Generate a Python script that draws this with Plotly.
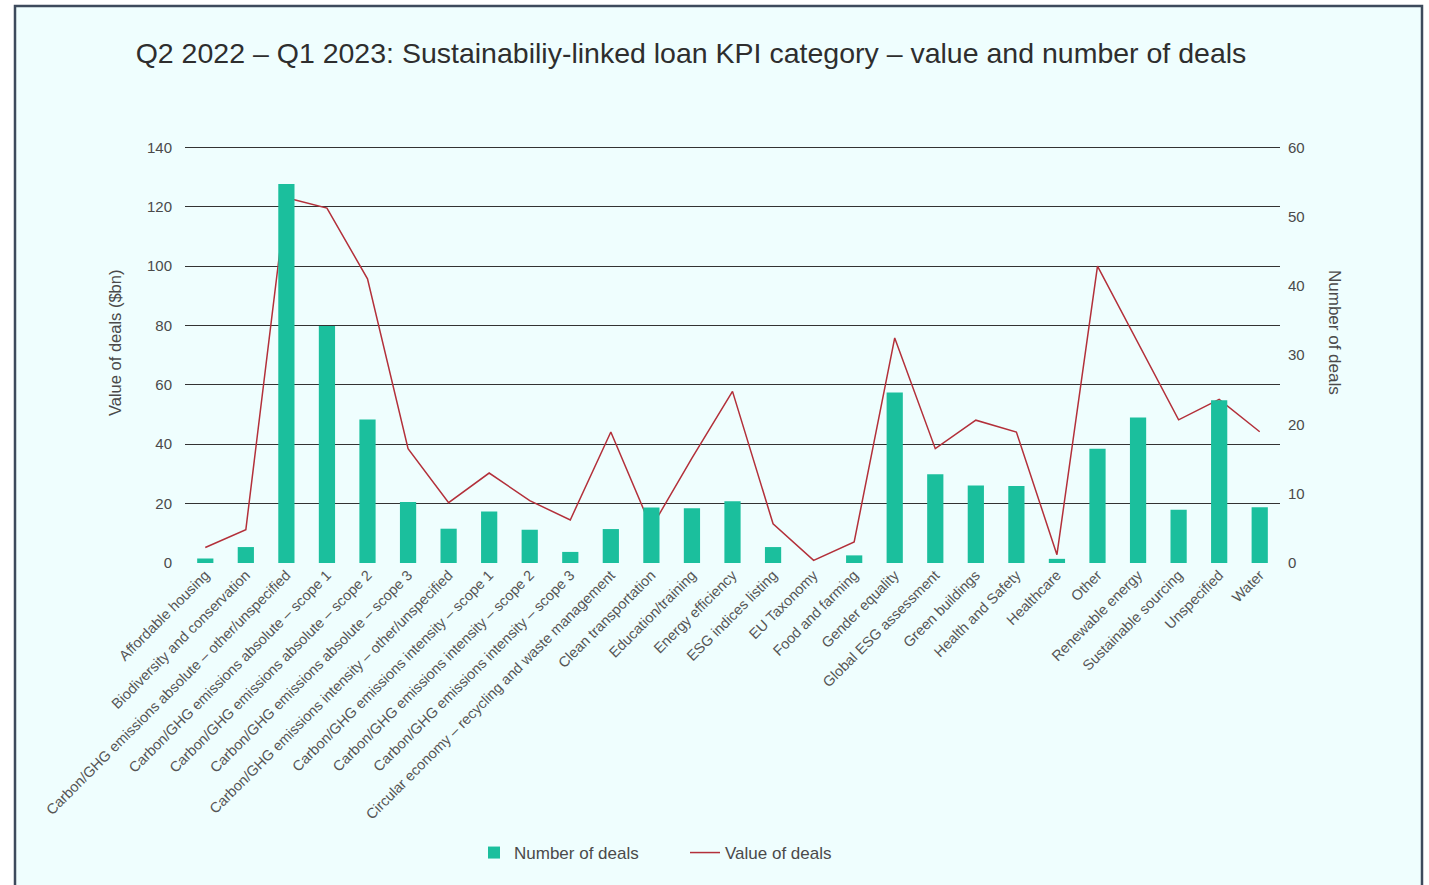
import plotly.graph_objects as go

# KPI categories
categories = [
    "Affordable housing",
    "Biodiversity and conservation",
    "Carbon/GHG emissions absolute – other/unspecified",
    "Carbon/GHG emissions absolute – scope 1",
    "Carbon/GHG emissions absolute – scope 2",
    "Carbon/GHG emissions absolute – scope 3",
    "Carbon/GHG emissions intensity – other/unspecified",
    "Carbon/GHG emissions intensity – scope 1",
    "Carbon/GHG emissions intensity – scope 2",
    "Carbon/GHG emissions intensity – scope 3",
    "Circular economy – recycling and waste management",
    "Clean transportation",
    "Education/training",
    "Energy efficiency",
    "ESG indices listing",
    "EU Taxonomy",
    "Food and farming",
    "Gender equality",
    "Global ESG assessment",
    "Green buildings",
    "Health and Safety",
    "Healthcare",
    "Other",
    "Renewable energy",
    "Sustainable sourcing",
    "Unspecified",
    "Water",
]

# Number of deals (right axis)
number_of_deals = [
    0.65, 2.3, 54.7, 34.2, 20.7, 8.8, 4.95, 7.45, 4.8, 1.6,
    4.9, 8.0, 7.9, 8.9, 2.3, 0, 1.1, 24.6, 12.8, 11.2,
    11.1, 0.6, 16.5, 21.0, 7.7, 23.5, 8.05,
]

# Value of deals, $bn (left axis)
value_of_deals = [
    5.2, 11.2, 123.0, 119.5, 95.7, 38.5, 20.3, 30.3, 21.0, 14.5,
    44.1, 11.9, 35.3, 57.8, 13.2, 0.9, 7.1, 75.8, 38.5, 48.1,
    44.1, 2.8, 100.0, 74.1, 48.2, 55.1, 44.2,
]

left_ticks = [0, 20, 40, 60, 80, 100, 120, 140]
right_ticks = [0, 10, 20, 30, 40, 50, 60]

BAR_COLOR = "#1bbf9d"
LINE_COLOR = "#b3303a"
TEXT_COLOR = "#4a4a4a"
PANEL_COLOR = "#effefe"
FONT = "Liberation Sans, Arial, sans-serif"

W, H = 1429, 885
L, R, T, B = 185, 149, 146, 322
PW, PH = W - L - R, H - T - B

# small headroom so the top gridline is not clipped at the plot edge
PAD = 1.003
left_range = [0, 140 * PAD]
right_range = [0, 60 * PAD]


def px(x):
    return (x - L) / PW


def py(y):
    return (H - B - y) / PH


fig = go.Figure()

fig.add_trace(go.Bar(
    x=categories,
    y=number_of_deals,
    name="Number of deals",
    marker=dict(color=BAR_COLOR, line=dict(width=0)),
    yaxis="y2",
))

fig.add_trace(go.Scatter(
    x=categories,
    y=value_of_deals,
    name="Value of deals",
    mode="lines",
    line=dict(color=LINE_COLOR, width=1.5),
    yaxis="y",
))

fig.update_layout(
    width=W,
    height=H,
    margin=dict(l=L, r=R, t=T, b=B),
    paper_bgcolor="white",
    plot_bgcolor="rgba(0,0,0,0)",
    font=dict(family=FONT, color=TEXT_COLOR),
    bargap=0.6,
    showlegend=True,
    title=dict(
        text="Q2 2022 – Q1 2023: Sustainabiliy-linked loan KPI category – value and number of deals",
        x=px(691), xref="paper", xanchor="center",
        y=1 - 53 / H, yref="container", yanchor="middle",
        font=dict(family=FONT, size=28.5, color="#2e2e2e"),
    ),
    xaxis=dict(
        type="category",
        tickangle=-45,
        tickfont=dict(size=14.5, color="#555555"),
        showgrid=False,
        showline=False,
        ticks="",
        zeroline=False,
    ),
    yaxis=dict(
        range=left_range,
        tickvals=left_ticks,
        showgrid=True,
        gridcolor="#333333",
        gridwidth=1.3,
        zeroline=False,
        showline=False,
        ticks="",
        ticklabelstandoff=12,
        tickfont=dict(size=15, color=TEXT_COLOR),
    ),
    yaxis2=dict(
        range=right_range,
        tickvals=right_ticks,
        overlaying="y",
        side="right",
        showgrid=False,
        zeroline=False,
        showline=False,
        ticks="",
        ticklabelstandoff=7,
        tickfont=dict(size=15, color=TEXT_COLOR),
    ),
    legend=dict(
        orientation="h",
        x=px(474), xanchor="left",
        y=py(853), yanchor="middle",
        bgcolor="rgba(0,0,0,0)",
        font=dict(size=17, color=TEXT_COLOR),
        itemwidth=30,
        entrywidth=166,
    ),
    shapes=[
        dict(
            type="rect", xref="paper", yref="paper", layer="below",
            x0=px(15), x1=px(1422), y0=py(895), y1=py(6),
            fillcolor=PANEL_COLOR,
            line=dict(color="#3d4a5c", width=2.5),
        ),
    ],
    annotations=[
        dict(
            text="Value of deals ($bn)", xref="paper", yref="paper",
            x=px(115), y=py(343), textangle=-90, showarrow=False,
            xanchor="center", yanchor="middle",
            font=dict(size=16.5, color=TEXT_COLOR),
        ),
        dict(
            text="Number of deals", xref="paper", yref="paper",
            x=px(1335), y=py(332), textangle=90, showarrow=False,
            xanchor="center", yanchor="middle",
            font=dict(size=17, color=TEXT_COLOR),
        ),
    ],
)

fig.write_html("out.html")
